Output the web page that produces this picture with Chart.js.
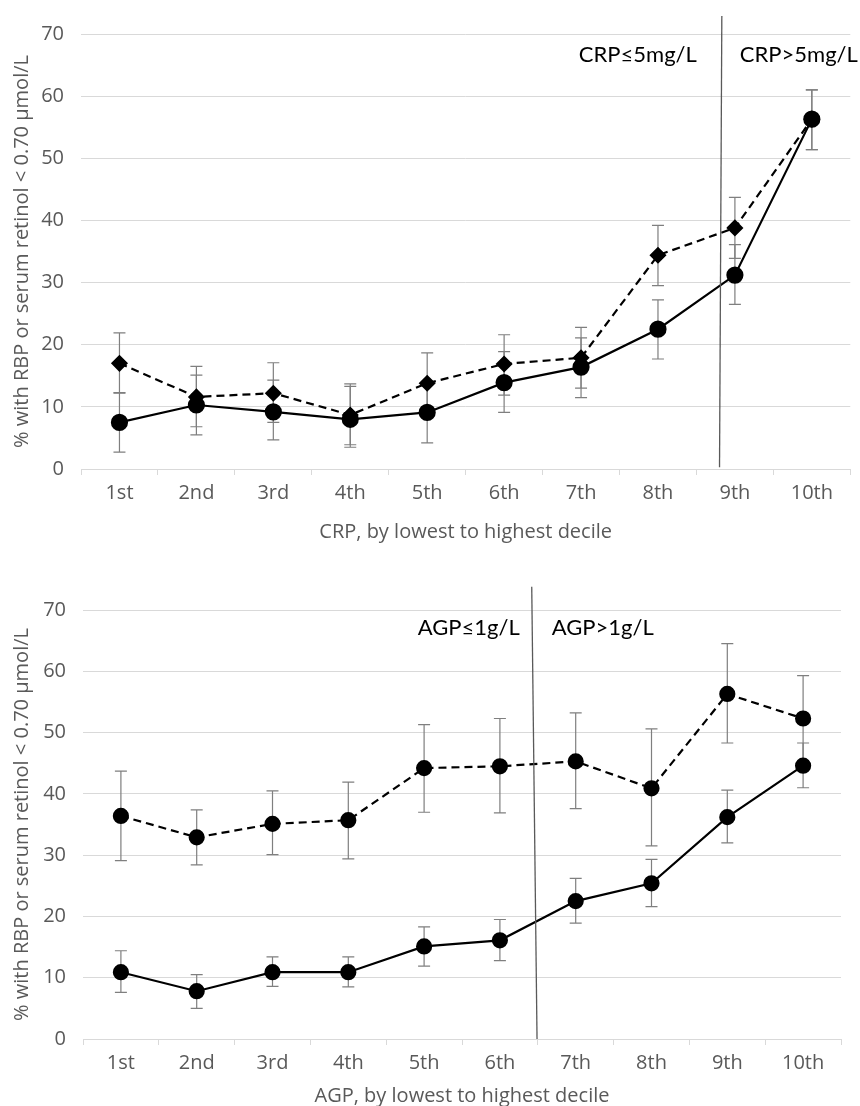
<!DOCTYPE html>
<html>
<head>
<meta charset="utf-8">
<script src="https://cdn.jsdelivr.net/npm/chart.js@4.4.1/dist/chart.umd.min.js"></script>
<style>
  html, body { margin: 0; padding: 0; background: #fff; }
  canvas { display: block; }
</style>
</head>
<body>
<canvas id="crpChart" width="860" height="560"></canvas>
<canvas id="agpChart" width="860" height="546"></canvas>
<script>
// ---------------- data ----------------
const deciles = ['1st', '2nd', '3rd', '4th', '5th', '6th', '7th', '8th', '9th', '10th'];
const yTicks = [0, 10, 20, 30, 40, 50, 60, 70];

// CRP panel
const crpSolid      = [7.5, 10.3, 9.2, 8.0, 9.1, 13.9, 16.4, 22.5, 31.2, 56.3];
const crpSolidLow   = [2.7, 5.5, 4.7, 3.5, 4.2, 9.1, 11.5, 17.7, 26.5, 51.4];
const crpSolidHigh  = [12.3, 15.1, 14.3, 13.3, 14.0, 18.9, 21.1, 27.2, 36.1, 61.0];
const crpDashed     = [17.0, 11.6, 12.2, 8.7, 13.8, 16.9, 17.9, 34.4, 38.8, 56.3];
const crpDashedLow  = [12.2, 6.8, 7.5, 3.9, 8.9, 11.9, 13.0, 29.5, 33.9, 51.4];
const crpDashedHigh = [21.9, 16.5, 17.1, 13.7, 18.7, 21.6, 22.8, 39.2, 43.7, 61.0];
const crpCutX = [7.83, 7.80];   // category index at top / bottom of divider
const crpCutY = [72.9, 0.3];
const crpLabels = ['CRP\u22645mg/L', 'CRP>5mg/L'];

// AGP panel
const agpSolid      = [10.9, 7.8, 10.9, 10.9, 15.1, 16.1, 22.5, 25.4, 36.2, 44.6];
const agpSolidLow   = [7.6, 5.0, 8.6, 8.5, 11.9, 12.8, 18.9, 21.6, 32.0, 41.0];
const agpSolidHigh  = [14.4, 10.5, 13.4, 13.4, 18.3, 19.5, 26.2, 29.3, 40.6, 48.3];
const agpDashed     = [36.4, 32.9, 35.1, 35.7, 44.2, 44.5, 45.3, 40.9, 56.3, 52.3];
const agpDashedLow  = [29.1, 28.4, 30.1, 29.4, 37.0, 36.9, 37.6, 31.5, 48.3, 45.3];
const agpDashedHigh = [43.7, 37.4, 40.5, 41.9, 51.3, 52.3, 53.2, 50.6, 64.5, 59.3];
const agpCutX = [5.42, 5.49];
const agpCutY = [73.8, 0];
const agpLabels = ['AGP\u22641g/L', 'AGP>1g/L'];

const yTitle = '% with RBP or serum retinol < 0.70 \u00b5mol/L';

// ---------------- plugins ----------------
const errorBars = {
    id: 'errorBars',
    beforeDatasetsDraw(chart, args, opts) {
        const { ctx, scales: { x, y } } = chart;
        ctx.save();
        ctx.strokeStyle = '#7f7f7f';
        ctx.lineWidth = 1.2;
        opts.bars.forEach(([low, high]) => {
            low.forEach((lo, i) => {
                const px = x.getPixelForValue(i);
                const yLo = y.getPixelForValue(lo);
                const yHi = y.getPixelForValue(high[i]);
                ctx.beginPath();
                ctx.moveTo(px, yLo); ctx.lineTo(px, yHi);
                ctx.moveTo(px - 6, yLo); ctx.lineTo(px + 6, yLo);
                ctx.moveTo(px - 6, yHi); ctx.lineTo(px + 6, yHi);
                ctx.stroke();
            });
        });
        ctx.restore();
    }
};

const divider = {
    id: 'divider',
    afterDraw(chart, args, opts) {
        const { ctx, scales: { x, y } } = chart;
        const x0 = x.getPixelForValue(opts.x[0]);
        const x1 = x.getPixelForValue(opts.x[1]);
        ctx.save();
        ctx.strokeStyle = '#595959';
        ctx.lineWidth = 1.3;
        ctx.beginPath();
        ctx.moveTo(x0, y.getPixelForValue(opts.y[0]));
        ctx.lineTo(x1, y.getPixelForValue(opts.y[1]));
        ctx.stroke();

        // labels either side of the cut-off
        const ty = y.getPixelForValue(opts.labelY);
        ctx.fillStyle = '#000';
        ctx.font = opts.font;
        ctx.textBaseline = 'middle';
        ctx.textAlign = 'right';
        ctx.fillText(opts.labels[0], x0 - opts.gap[0], ty);
        ctx.textAlign = 'left';
        ctx.fillText(opts.labels[1], x0 + opts.gap[1], ty);
        ctx.restore();
    }
};

// ---------------- chart builder ----------------
function makeChart(id, cfg) {
    return new Chart(document.getElementById(id), {
        type: 'line',
        data: {
            labels: deciles,
            datasets: [
                {
                    data: cfg.solid,
                    borderColor: '#000',
                    backgroundColor: '#000',
                    borderWidth: 2.2,
                    pointStyle: 'circle',
                    pointRadius: cfg.circleR,
                    tension: 0
                },
                {
                    data: cfg.dashed,
                    borderColor: '#000',
                    backgroundColor: '#000',
                    borderWidth: 2.2,
                    borderDash: [8, 5],
                    pointStyle: cfg.dashedPoint,
                    pointRadius: cfg.dashedR,
                    tension: 0
                }
            ]
        },
        options: {
            responsive: false,
            animation: false,
            events: [],
            layout: { padding: cfg.padding },
            plugins: {
                legend: { display: false },
                tooltip: { enabled: false },
                errorBars: { bars: cfg.bars },
                divider: cfg.divider
            },
            scales: {
                x: {
                    offset: true,
                    afterFit(scale) { scale.height = cfg.xHeight; },
                    grid: {
                        offset: true,
                        drawOnChartArea: false,
                        tickLength: 6,
                        color: '#d9d9d9'
                    },
                    border: { color: '#d9d9d9' },
                    ticks: {
                        color: '#595959',
                        padding: 6,
                        maxRotation: 0,
                        font: { family: 'Open Sans', size: 20 }
                    },
                    title: {
                        display: true,
                        text: cfg.xTitle,
                        color: '#595959',
                        padding: { top: 0, bottom: cfg.xTitlePad },
                        font: { family: 'Open Sans', size: 20 }
                    }
                },
                y: {
                    min: 0,
                    max: 70,
                    afterFit(scale) { scale.width = cfg.yWidth; },
                    afterBuildTicks(scale) { scale.ticks = yTicks.map(v => ({ value: v })); },
                    grid: { color: '#d9d9d9', drawTicks: false },
                    border: { display: false },
                    ticks: {
                        color: '#595959',
                        padding: 17,
                        font: { family: 'Open Sans', size: 20 }
                    },
                    title: {
                        display: true,
                        text: yTitle,
                        color: '#595959',
                        padding: { top: 10, bottom: 0 },
                        font: { family: 'Open Sans', size: 20 }
                    }
                }
            }
        },
        plugins: [errorBars, divider]
    });
}

makeChart('crpChart', {
    solid: crpSolid,
    dashed: crpDashed,
    circleR: 7.5,
    dashedPoint: 'rectRot',
    dashedR: 7,
    bars: [[crpSolidLow, crpSolidHigh], [crpDashedLow, crpDashedHigh]],
    padding: { top: 34, right: 8, left: 0, bottom: 0 },
    xHeight: 91,
    yWidth: 81,
    xTitle: 'CRP, by lowest to highest decile',
    xTitlePad: 16,
    divider: {
        x: crpCutX, y: crpCutY,
        labels: crpLabels, labelY: 66.7,
        gap: [25, 18],
        font: '22px Lato'
    }
});

makeChart('agpChart', {
    solid: agpSolid,
    dashed: agpDashed,
    circleR: 7,
    dashedPoint: 'circle',
    dashedR: 7,
    bars: [[agpSolidLow, agpSolidHigh], [agpDashedLow, agpDashedHigh]],
    padding: { top: 50, right: 19, left: 0, bottom: 0 },
    xHeight: 67,
    yWidth: 83,
    xTitle: 'AGP, by lowest to highest decile',
    xTitlePad: -2,
    divider: {
        x: agpCutX, y: agpCutY,
        labels: agpLabels, labelY: 67.1,
        gap: [12, 20],
        font: '22px Lato'
    }
});
</script>
</body>
</html>
